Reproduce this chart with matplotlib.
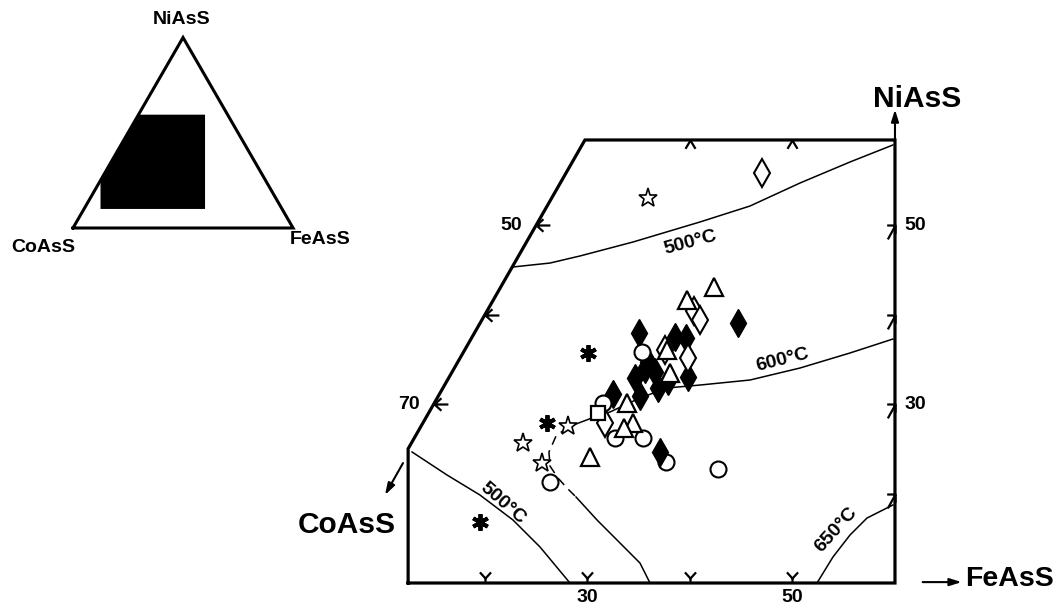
import matplotlib
matplotlib.use('Agg')
import matplotlib.pyplot as plt
from matplotlib.path import Path
from matplotlib.markers import MarkerStyle

plt.rcParams['font.family'] = ['Liberation Sans', 'DejaVu Sans']

# ---- data: x = FeAsS on base scale, y = NiAsS (mol %) ----
star_x = [35.90, 28.10, 23.71, 25.56]
star_y = [53.02, 27.54, 25.64, 23.41]

aster_x = [30.05, 26.05, 19.51]
aster_y = [35.70, 27.88, 16.82]

odiam_x = [47.02, 40.39, 40.98, 37.56, 39.80, 31.71]
odiam_y = [55.81, 40.39, 39.39, 36.03, 35.14, 27.88]

tri_x = [42.34, 39.71, 38.05, 37.76, 33.85, 34.44, 33.56, 30.24]
tri_y = [43.07, 41.62, 33.46, 36.03, 30.11, 27.88, 27.32, 24.08]

circ_x = [35.32, 31.51, 32.68, 35.41, 26.34, 42.73]
circ_y = [35.81, 30.11, 26.20, 26.20, 21.28, 22.74]

hcirc_x = [37.66]
hcirc_y = [23.52]

sq_x = [31.02]
sq_y = [28.99]

fdiam_x = [44.68, 35.02, 38.54, 39.61, 35.90, 36.59, 34.63, 36.88, 39.80,
           35.12, 32.49, 37.07, 35.6, 37.9]
fdiam_y = [39.05, 37.93, 37.49, 37.37, 34.69, 33.58, 32.91, 31.79, 33.02,
           30.89, 31.12, 24.64, 33.9, 32.6]

# isotherms
c500u_x = [22.73, 26.34, 29.27, 34.44, 40.98, 45.85, 50.73, 55.61, 59.80]
c500u_y = [45.31, 45.75, 46.54, 48.10, 50.34, 52.12, 54.69, 57.04, 58.94]

c600_x = [59.80, 55.61, 50.73, 45.85, 40.98, 37.76, 35.12, 32.20, 30.44, 28.10]
c600_y = [37.26, 35.70, 34.02, 32.68, 32.12, 31.79, 30.67, 29.11, 28.44, 27.43]

c600d_x = [28.10, 26.93, 26.24, 26.34, 27.12, 28.00, 28.88]
c600d_y = [27.43, 26.42, 24.64, 23.07, 21.73, 20.61, 19.61]

c600l_x = [28.88, 30.93, 33.17, 35.12, 36.10]
c600l_y = [19.61, 17.04, 14.47, 12.23, 10.0]

c500l_x = [12.88, 16.29, 19.51, 22.73, 25.37, 28.29]
c500l_y = [24.64, 22.07, 19.83, 17.04, 14.02, 10.0]

c650_x = [52.39, 53.95, 55.61, 57.27, 59.80]
c650_y = [10.0, 12.91, 15.36, 17.26, 18.72]

# frame of the enlarged field
frame_x = [12.5, 12.5, 29.75, 60, 60, 12.5]
frame_y = [10, 25, 59.5, 59.5, 10, 10]

bottom_ticks = [20, 30, 40, 50]
bottom_labels = {30: '30', 50: '50'}
top_ticks = [40, 50]
right_ticks = [20, 30, 40, 50]
right_labels = {30: '30', 50: '50'}
left_ticks = [30, 40, 50]          # NiAsS along the CoAsS-NiAsS edge
left_labels = {30: '70', 50: '50'}  # CoAsS value

# inset triangle
itri_x = [0, 100, 50, 0]
itri_y = [0, 0, 100, 0]

# ---- figure ----
fig = plt.figure(figsize=(10.56, 6.04), dpi=100)
ax = fig.add_axes([0, 0, 1, 1])
ax.set_xlim(-27.32, 75.71)
ax.set_ylim(7.654, 75.14)
ax.axis('off')

ax.plot(frame_x, frame_y, color='k', lw=2.3, solid_joinstyle='miter', zorder=5)

lkw = dict(color='k', lw=1.1, zorder=1)
ax.plot(c500u_x, c500u_y, **lkw)
ax.plot(c600_x, c600_y, **lkw)
ax.plot(c600d_x, c600d_y, color='k', lw=1.1, dashes=(6, 4), zorder=1)
ax.plot(c600l_x, c600l_y, **lkw)
ax.plot(c500l_x, c500l_y, **lkw)
ax.plot(c650_x, c650_y, **lkw)

tkw = dict(fontsize=14, fontweight='bold', ha='center', va='center',
           rotation_mode='anchor')
ax.text(40.0, 48.0, '500°C', rotation=15, **tkw)
ax.text(48.98, 34.92, '600°C', rotation=14, **tkw)
ax.text(21.76, 18.94, '500°C', rotation=-41, **tkw)
ax.text(54.24, 15.92, '650°C', rotation=48, **tkw)

# markers
ax.plot(hcirc_x, hcirc_y, ls='none', marker='o', ms=11.5, mfc='white',
        mec='k', mew=1.5, zorder=2)
ax.plot(fdiam_x, fdiam_y, ls='none', marker='d', ms=14, mfc='k', mec='k',
        mew=1.0, zorder=3)
okw = dict(ls='none', mfc='white', mec='k', zorder=4)
ax.plot(odiam_x, odiam_y, marker='d', ms=14, mew=1.5, **okw)
ax.plot(circ_x, circ_y, marker='o', ms=11.5, mew=1.5, **okw)
ax.plot(tri_x, tri_y, marker='^', ms=12.5, mew=1.6, **okw)
ax.plot(sq_x, sq_y, marker='s', ms=10.5, mew=1.6, **okw)
ax.plot(star_x, star_y, marker='*', ms=14, mew=1.2, **okw)
ax.plot(aster_x, aster_y, ls='none', marker=(6, 2, 0), ms=12, mew=2.8,
        color='k', zorder=4)

# tick marks (arrow-like)
M, L = Path.MOVETO, Path.LINETO
p_bottom = Path([(0, 0), (0, 0.45), (-0.5, 1), (0, 0.45), (0.5, 1)],
                [M, L, M, L, L])
p_top = Path([(-0.6, -1), (0, 0), (0.6, -1)], [M, L, L])
p_right = Path([(-0.55, -1), (0, 0), (-0.6, 0), (0, 0), (0, -0.6)],
               [M, L, M, L, L])
p_left = Path([(1, 0), (0, 0), (0.5, 0.45), (0, 0), (0.5, -0.45)],
              [M, L, M, L, L])
mk = dict(ls='none', mfc='none', mec='k', mew=1.6, zorder=5)
ax.plot(bottom_ticks, [10] * len(bottom_ticks), marker=MarkerStyle(p_bottom),
        ms=16, **mk)
ax.plot(top_ticks, [59.5] * len(top_ticks), marker=MarkerStyle(p_top),
        ms=12, **mk)
ax.plot([60] * len(right_ticks), right_ticks, marker=MarkerStyle(p_right),
        ms=20, **mk)
ax.plot([n / 2 for n in left_ticks], left_ticks, marker=MarkerStyle(p_left),
        ms=20, **mk)

lab = dict(fontsize=14, fontweight='bold', textcoords='offset points')
for v, s in bottom_labels.items():
    ax.annotate(s, (v, 10), xytext=(0, -10.5), ha='center', va='center', **lab)
for v, s in right_labels.items():
    ax.annotate(s, (60, v), xytext=(7, 0), ha='left', va='center', **lab)
for v, s in left_labels.items():
    ax.annotate(s, (v / 2, v), xytext=(-10, 0), ha='right', va='center', **lab)

# axis arrows & names
akw = dict(arrowstyle='-|>,head_length=0.7,head_width=0.22', color='k',
           lw=1.5, shrinkA=0, shrinkB=0)
ax.annotate('', xy=(60, 62.9), xytext=(60, 59.5), arrowprops=akw)
ax.annotate('', xy=(66.5, 10.1), xytext=(62.7, 10.1), arrowprops=akw)
ax.annotate('', xy=(10.24, 19.83), xytext=(12.0, 23.4), arrowprops=akw)

nkw = dict(fontsize=21.5, fontweight='bold', va='center')
ax.text(62.15, 64.1, 'NiAsS', ha='center', **nkw)
ax.text(66.8, 10.4, 'FeAsS', ha='left', fontsize=20.5, fontweight='bold',
        va='center')
ax.text(6.5, 16.5, 'CoAsS', ha='center', **nkw)

# ---- inset ----
axi = fig.add_axes([0, 1 - 260 / 604, 400 / 1056, 260 / 604])
axi.set_xlim(-33.18, 148.6)
axi.set_ylim(-16.8, 119.7)
axi.axis('off')
axi.fill(frame_x, frame_y, color='k', lw=0)
axi.plot(itri_x, itri_y, color='k', lw=2.2, solid_joinstyle='miter')
ikw = dict(fontsize=14, fontweight='bold', ha='center', va='center')
axi.text(49.5, 109.2, 'NiAsS', **ikw)
axi.text(-13.6, -10.0, 'CoAsS', **ikw)
axi.text(112.3, -6.3, 'FeAsS', **ikw)

fig.savefig('out.png', dpi=100)
